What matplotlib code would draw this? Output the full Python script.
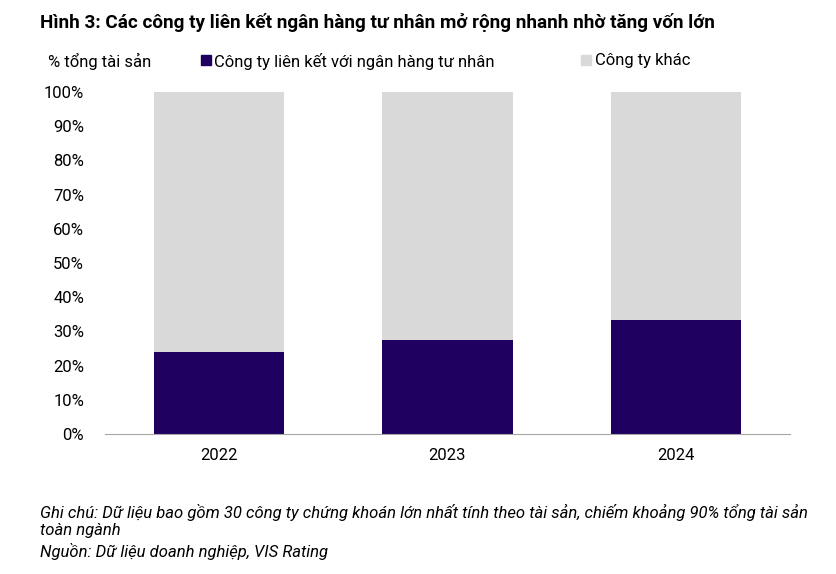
import matplotlib
matplotlib.use('Agg')
import matplotlib.pyplot as plt
from matplotlib.patches import Rectangle
import numpy as np

plt.rcParams['font.family'] = ['Roboto', 'DejaVu Sans']

# du lieu
years = ['2022', '2023', '2024']
lien_ket = [24.0, 27.6, 33.3]
khac = [100 - v for v in lien_ket]
ytick_vals = list(range(0, 101, 10))
ytick_labels = [f'{v}%' for v in ytick_vals]

c_dark = '#1f0061'
c_gray = '#d9d9d9'

W, H = 837, 574
fig = plt.figure(figsize=(W / 100, H / 100), dpi=100)
ax = fig.add_axes([105/W, 1 - 434/H, 685/W, 342/H])

x = np.arange(len(years))
ax.bar(x, lien_ket, width=0.57, color=c_dark)
ax.bar(x, khac, bottom=lien_ket, width=0.57, color=c_gray)

ax.set_xlim(-0.5, 2.5)
ax.set_ylim(0, 100)
ax.set_yticks(ytick_vals)
ax.set_yticklabels(ytick_labels, fontsize=12)
ax.set_xticks(x)
ax.set_xticklabels(years, fontsize=12)
ax.tick_params(axis='both', length=0)
ax.tick_params(axis='y', pad=15)
ax.tick_params(axis='x', pad=10)
for s in ['top', 'right', 'left']:
    ax.spines[s].set_visible(False)
ax.spines['bottom'].set_color('#a6a6a6')

# tieu de va chu thich
fig.text(40/W, 1 - 22/H, 'Hình 3: Các công ty liên kết ngân hàng tư nhân mở rộng nhanh nhờ tăng vốn lớn',
         fontsize=13.6, fontweight='bold', va='center', ha='left')
fig.text(48/W, 1 - 61/H, '% tổng tài sản', fontsize=12, va='center', ha='left')

# legend thu cong
fig.patches.append(Rectangle((201/W, 1 - 65/H), 10/W, 10/H, color=c_dark,
                             transform=fig.transFigure, figure=fig))
fig.text(214/W, 1 - 61/H, 'Công ty liên kết với ngân hàng tư nhân', fontsize=12, va='center', ha='left')
fig.patches.append(Rectangle((581/W, 1 - 65/H), 10/W, 10/H, color=c_gray,
                             transform=fig.transFigure, figure=fig))
fig.text(595/W, 1 - 61/H, 'Công ty khác', fontsize=12, va='center', ha='left')

fig.text(40/W, 1 - 512/H,
         'Ghi chú: Dữ liệu bao gồm 30 công ty chứng khoán lớn nhất tính theo tài sản, chiếm khoảng 90% tổng tài sản',
         fontsize=12, style='italic', va='center', ha='left')
fig.text(40/W, 1 - 531/H, 'toàn ngành', fontsize=12, style='italic', va='center', ha='left')
fig.text(40/W, 1 - 551/H, 'Nguồn: Dữ liệu doanh nghiệp, VIS Rating',
         fontsize=12, style='italic', va='center', ha='left')

fig.savefig('out.png', dpi=100)
